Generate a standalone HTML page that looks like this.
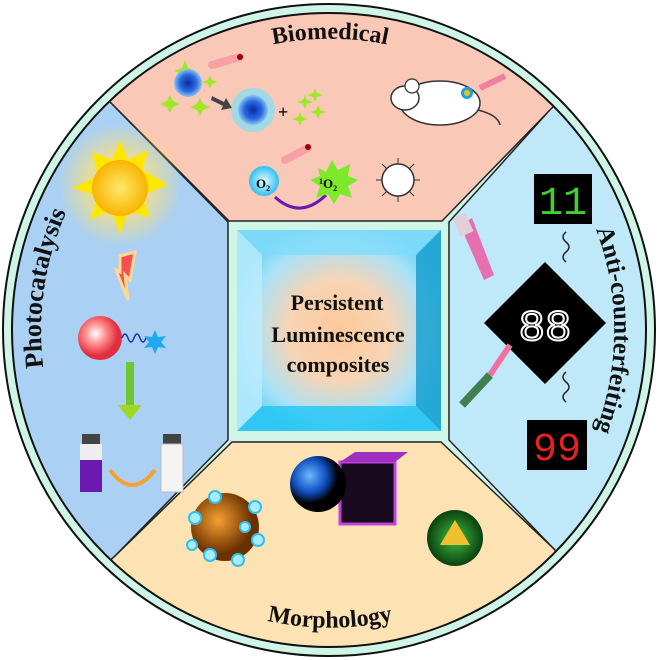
<!DOCTYPE html>
<html><head><meta charset="utf-8"><style>html,body{margin:0;padding:0;background:#fff}svg{display:block}</style></head>
<body>
<svg width="659" height="660" viewBox="0 0 659 660" xmlns="http://www.w3.org/2000/svg" font-family="'Liberation Serif',serif">
<defs>
<clipPath id="c"><circle cx="329" cy="330" r="317"/></clipPath>
<radialGradient id="ctr" cx="50%" cy="50%" r="55%"><stop offset="0" stop-color="#fdc89a"/><stop offset="0.45" stop-color="#f7d4b4"/><stop offset="0.8" stop-color="#a9e2f8"/><stop offset="1" stop-color="#6fd3f6"/></radialGradient>
<radialGradient id="bs"><stop offset="0" stop-color="#0a2a9a"/><stop offset="0.6" stop-color="#2a6ae0"/><stop offset="1" stop-color="#8ac4f4"/></radialGradient>
<radialGradient id="sun"><stop offset="0" stop-color="#ffe86a"/><stop offset="1" stop-color="#f8b400"/></radialGradient>
<radialGradient id="glow"><stop offset="0.5" stop-color="#ffe070"/><stop offset="1" stop-color="#ffe070" stop-opacity="0"/></radialGradient>
<radialGradient id="rs" cx="40%" cy="40%"><stop offset="0" stop-color="#fff"/><stop offset="0.5" stop-color="#f88"/><stop offset="1" stop-color="#e03040"/></radialGradient>
<radialGradient id="or" cx="40%" cy="40%"><stop offset="0" stop-color="#f8a030"/><stop offset="1" stop-color="#6a3000"/></radialGradient>
<radialGradient id="bl" cx="35%" cy="35%"><stop offset="0" stop-color="#6ab8ff"/><stop offset="0.6" stop-color="#1050c0"/><stop offset="1" stop-color="#000"/></radialGradient>
<radialGradient id="gr" cx="50%" cy="50%"><stop offset="0" stop-color="#40c040"/><stop offset="1" stop-color="#0a4010"/></radialGradient>
<radialGradient id="cy"><stop offset="0" stop-color="#e8fbff"/><stop offset="1" stop-color="#30c0f0"/></radialGradient>
<path id="tp" d="M 160,95 A 285,285 0 0 1 500,95"/>
<path id="bp" d="M 150,565 A 290,290 0 0 0 510,565"/>
<path id="lp" d="M 67,450 A 288,288 0 0 1 113,140"/>
<path id="rp" d="M 558,160 A 285,285 0 0 1 558,500"/>
</defs>
<circle cx="329" cy="330" r="326" fill="#cff5e6" stroke="#111" stroke-width="2"/>
<g clip-path="url(#c)">
<rect x="0" y="0" width="659" height="660" fill="#cff5e6"/>
<polygon points="0,0 659,0 659,8 548,112 442,221 229,221 112,104 0,0" fill="#fac8b6" stroke="#222" stroke-width="1.5"/>
<polygon points="0,0 112,104 228,222 228,440 115,556 0,660" fill="#aad0f4" stroke="#222" stroke-width="1.5"/>
<polygon points="659,0 548,112 449,222 449,440 553,548 659,660" fill="#bfe9f8" stroke="#222" stroke-width="1.5"/>
<polygon points="0,660 115,556 232,442 441,442 553,548 659,660" fill="#fde3b4" stroke="#222" stroke-width="1.5"/>
</g>
<circle cx="329" cy="330" r="317" fill="none" stroke="#111" stroke-width="2"/>
<rect x="237" y="230" width="204" height="201" fill="url(#ctr)"/>
<polygon points="237,230 441,230 416,255 262,255" fill="#7fdcfa" opacity="0.8"/>
<polygon points="416,255 441,230 441,431 416,406" fill="#1aa0d0" opacity="0.85"/>
<polygon points="237,431 441,431 416,406 262,406" fill="#20c4f4" opacity="0.8"/>
<polygon points="237,230 262,255 262,406 237,431" fill="#bdecfd" opacity="0.8"/>
<g font-weight="bold" font-size="22" text-anchor="middle" fill="#111">
<text x="337" y="310">Persistent</text><text x="338" y="342">Luminescence</text><text x="338" y="372">composites</text></g>
<g font-weight="bold" font-size="24" fill="#111">
<text><textPath href="#tp" startOffset="50%" text-anchor="middle">Biomedical</textPath></text>
<text><textPath href="#bp" startOffset="50%" text-anchor="middle">Morphology</textPath></text>
<text font-size="26"><textPath href="#lp" startOffset="50%" text-anchor="middle">Photocatalysis</textPath></text>
<text font-size="25"><textPath href="#rp" startOffset="50%" text-anchor="middle">Anti-counterfeiting</textPath></text>
</g>
<g fill="#9ee82a"><path d="M185,60 l3,8 8,3 -8,3 -3,8 -3,-8 -8,-3 8,-3z"/><path d="M170,95 l3,6 7,3 -7,3 -3,6 -3,-6 -7,-3 7,-3z"/><path d="M200,98 l3,6 7,3 -7,3 -3,6 -3,-6 -7,-3 7,-3z"/><path d="M210,75 l2,5 6,2 -6,2 -2,5 -2,-5 -6,-2 6,-2z"/>
<path d="M305,95 l2,5 6,2 -6,2 -2,5 -2,-5 -6,-2 6,-2z"/><path d="M318,105 l2,5 6,2 -6,2 -2,5 -2,-5 -6,-2 6,-2z"/><path d="M300,112 l2,5 6,2 -6,2 -2,5 -2,-5 -6,-2 6,-2z"/><path d="M315,88 l2,5 6,2 -6,2 -2,5 -2,-5 -6,-2 6,-2z"/></g>
<circle cx="188" cy="83" r="14" fill="url(#bs)"/>
<circle cx="253" cy="110" r="22" fill="#7ae0fa" opacity="0.7"/><circle cx="253" cy="110" r="15" fill="url(#bs)"/>
<path d="M212,96 l12,6 2,-4 6,10 -11,2 2,-4 -12,-6z" fill="#444"/>
<text x="278" y="118" font-size="18" font-weight="bold">+</text>
<line x1="212" y1="65" x2="240" y2="57" stroke="#f8a0a8" stroke-width="8" stroke-linecap="round"/><circle cx="240" cy="57" r="3" fill="#900"/>
<line x1="285" y1="160" x2="308" y2="148" stroke="#f8a0a8" stroke-width="8" stroke-linecap="round"/><circle cx="308" cy="147" r="3" fill="#900"/>
<circle cx="264" cy="181" r="15" fill="url(#cy)"/><text x="256" y="188" font-size="13" font-weight="bold">O<tspan font-size="8" dy="3">2</tspan></text>
<path d="M275,197 Q300,220 326,195" fill="none" stroke="#6a1ab0" stroke-width="3"/>
<polygon points="318,168 326,172 332,160 338,170 350,164 348,176 358,180 348,186 352,198 340,194 334,204 328,194 316,198 320,186 310,180 320,176" fill="#7ee82a"/>
<text x="319" y="188" font-size="13" font-weight="bold"><tspan font-size="8" dy="-4">1</tspan><tspan dy="4">O</tspan><tspan font-size="8" dy="3">2</tspan></text>
<circle cx="398" cy="180" r="16" fill="#fff" stroke="#333" stroke-width="1.5"/>
<g stroke="#333" stroke-width="1"><line x1="398" y1="164" x2="398" y2="158"/><line x1="398" y1="196" x2="398" y2="202"/><line x1="382" y1="180" x2="376" y2="180"/><line x1="414" y1="180" x2="420" y2="180"/><line x1="387" y1="169" x2="382" y2="164"/><line x1="409" y1="191" x2="414" y2="196"/><line x1="409" y1="169" x2="414" y2="164"/><line x1="387" y1="191" x2="382" y2="196"/></g>
<ellipse cx="440" cy="103" rx="40" ry="22" fill="#fff" stroke="#333" stroke-width="1.5"/>
<ellipse cx="405" cy="98" rx="14" ry="12" fill="#fff" stroke="#333" stroke-width="1.5"/>
<circle cx="412" cy="86" r="7" fill="#fff" stroke="#333" stroke-width="1.2"/>
<path d="M478,110 q20,5 22,15" fill="none" stroke="#333" stroke-width="1.5"/>
<circle cx="467" cy="93" r="6" fill="#20a0e0"/><circle cx="467" cy="93" r="3" fill="#f0c020"/>
<line x1="480" y1="88" x2="505" y2="76" stroke="#f080a0" stroke-width="6"/>
<circle cx="120" cy="185" r="62" fill="url(#glow)" opacity="0.7"/>
<polygon points="120,140 128,160 148,150 142,170 168,185 142,195 150,218 128,210 120,235 112,210 90,220 98,196 72,188 98,176 92,152 112,160" fill="#ffe600"/>
<circle cx="120" cy="188" r="28" fill="url(#sun)"/>
<polygon points="120,256 135,252 130,280 125,275 128,300 116,270 120,272" fill="#f45050" stroke="#fdd890" stroke-width="3"/>
<circle cx="100" cy="338" r="22" fill="url(#rs)"/>
<path d="M122,338 q3,-8 6,0 t6,0 t6,0 t6,0" fill="none" stroke="#2030a0" stroke-width="1.5"/>
<polygon points="155,330 158,337 166,336 161,342 166,348 158,347 155,354 152,347 144,348 149,342 144,336 152,337" fill="#20a8f0"/>
<rect x="126" y="362" width="8" height="45" fill="#70c830"/><polygon points="118,405 142,405 130,420" fill="#a0d820"/>
<rect x="82" y="434" width="18" height="10" fill="#444"/><rect x="80" y="444" width="22" height="48" fill="#eee"/><rect x="80" y="460" width="22" height="32" fill="#6a1ab0"/>
<rect x="163" y="434" width="18" height="10" fill="#444"/><rect x="161" y="444" width="22" height="48" fill="#f4f4f4" stroke="#bbb"/>
<path d="M110,470 Q132,500 155,470" fill="none" stroke="#f8a030" stroke-width="4"/>
<rect x="534" y="174" width="58" height="50" fill="#000"/>
<text x="563" y="214" font-family="'Liberation Mono',monospace" font-size="40" fill="#40d030" text-anchor="middle">11</text>
<polygon points="545,262 606,323 545,384 484,323" fill="#000"/>
<text x="545" y="340" font-family="'Liberation Mono',monospace" font-size="44" fill="#000" stroke="#fff" stroke-width="2" text-anchor="middle">88</text>
<rect x="527" y="420" width="60" height="50" fill="#000"/>
<text x="557" y="460" font-family="'Liberation Mono',monospace" font-size="40" fill="#e82020" text-anchor="middle">99</text>
<path d="M566,232 q-6,5 0,10 t0,10 t0,10" fill="none" stroke="#222" stroke-width="1.5"/>
<path d="M566,372 q-6,5 0,10 t0,10 t0,10" fill="none" stroke="#222" stroke-width="1.5"/>
<polygon points="460,225 472,218 494,275 484,280" fill="#f050a0" opacity="0.8"/><rect x="456" y="215" width="14" height="20" fill="#e0d0d8" transform="rotate(-25 463 225)"/>
<line x1="462" y1="405" x2="490" y2="375" stroke="#408050" stroke-width="8"/><line x1="490" y1="375" x2="510" y2="345" stroke="#f070a0" stroke-width="6"/>
<circle cx="225" cy="527" r="34" fill="url(#or)"/>
<g fill="#a8ecfc" stroke="#30c0f0" stroke-width="2"><circle cx="195" cy="518" r="6"/><circle cx="215" cy="497" r="6"/><circle cx="255" cy="507" r="6"/><circle cx="258" cy="540" r="6"/><circle cx="238" cy="560" r="6"/><circle cx="210" cy="555" r="6"/><circle cx="192" cy="545" r="5"/><circle cx="245" cy="527" r="5"/></g>
<rect x="340" y="462" width="55" height="62" fill="#1a0a20" stroke="#c040e0" stroke-width="3"/>
<polygon points="340,462 355,452 408,452 395,462" fill="#a030c0"/>
<circle cx="318" cy="484" r="28" fill="url(#bl)"/>
<circle cx="455" cy="538" r="28" fill="url(#gr)"/>
<polygon points="455,520 470,545 440,545" fill="#f0c030"/>
</svg>
</body></html>
